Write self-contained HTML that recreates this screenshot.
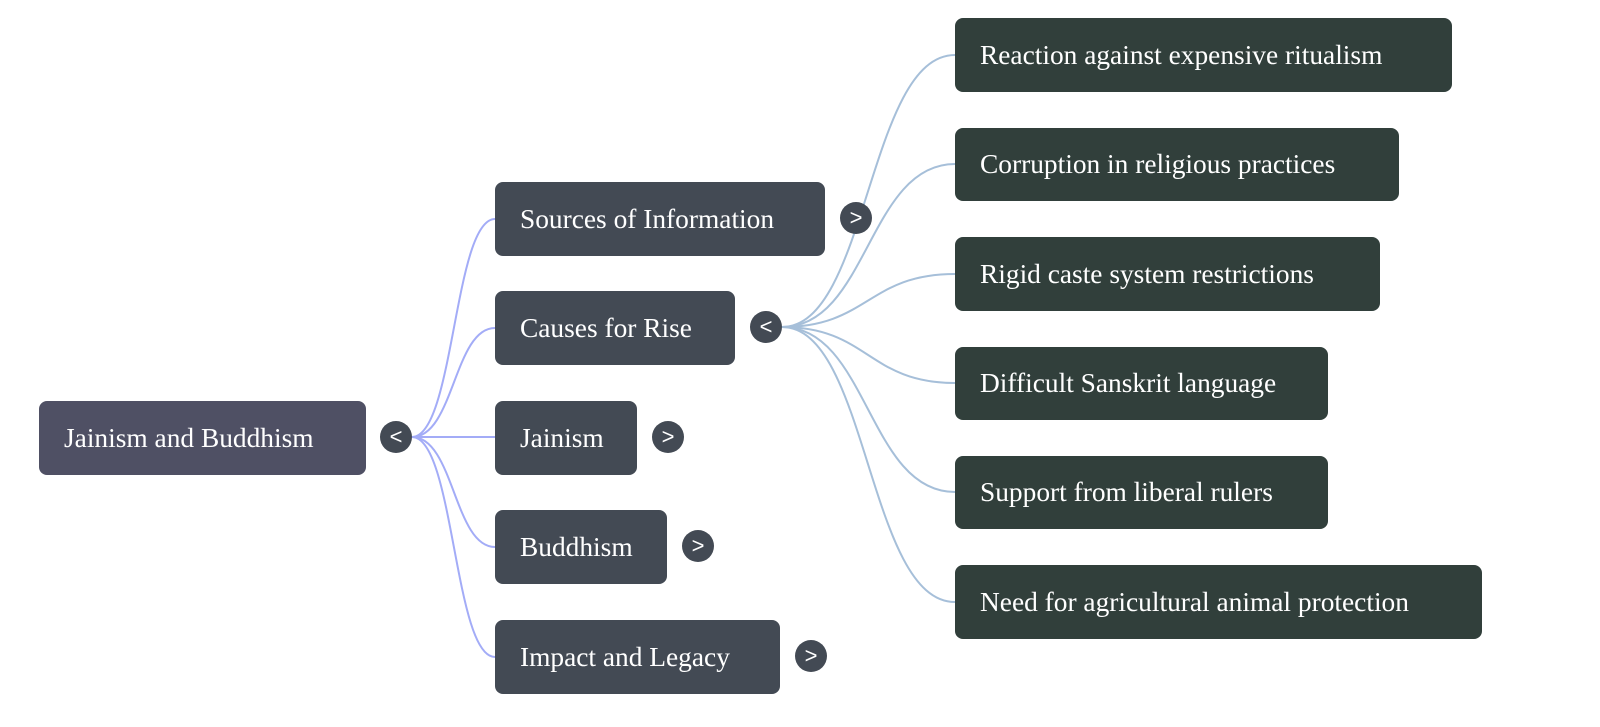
<!DOCTYPE html>
<html><head><style>
html,body{margin:0;padding:0;background:#fff;}
body{width:1600px;height:727px;position:relative;overflow:hidden;font-family:"Liberation Serif",serif;}
.n{position:absolute;box-sizing:border-box;border-radius:8px;color:#fff;font-size:27.4px;padding-left:25px;display:flex;align-items:center;white-space:nowrap;}
.r{background:#4f5064;}
.a{background:#434a54;}
.b{background:#313f3b;}
.t{position:absolute;width:32px;height:32px;border-radius:50%;background:#434a54;color:#fff;font-family:"Liberation Sans",sans-serif;font-size:22px;display:flex;align-items:center;justify-content:center;line-height:1;}
svg{position:absolute;left:0;top:0;}
</style></head><body>
<svg width="1600" height="727">
<g fill="none" stroke="#a3acf7" stroke-width="2">
<path d="M412,437 C454,437 454,219 495,219"/>
<path d="M412,437 C454,437 454,328 495,328"/>
<path d="M412,437 L495,437"/>
<path d="M412,437 C454,437 454,547 495,547"/>
<path d="M412,437 C454,437 454,657 495,657"/>
</g>
<g fill="none" stroke="#a6bfd9" stroke-width="2">
<path d="M782,327 C868,327 868,55 955,55"/>
<path d="M782,327 C868,327 868,164 955,164"/>
<path d="M782,327 C868,327 868,274 955,274"/>
<path d="M782,327 C868,327 868,383 955,383"/>
<path d="M782,327 C868,327 868,492 955,492"/>
<path d="M782,327 C868,327 868,602 955,602"/>
</g>
</svg>
<div class="n r" style="left:39px;top:401px;width:327px;height:74px;">Jainism and Buddhism</div>
<div class="t" style="left:380px;top:421px;">&lt;</div>
<div class="n a" style="left:495px;top:182px;width:330px;height:74px;">Sources of Information</div>
<div class="t" style="left:840px;top:202px;">&gt;</div>
<div class="n a" style="left:495px;top:291px;width:240px;height:74px;">Causes for Rise</div>
<div class="t" style="left:750px;top:311px;">&lt;</div>
<div class="n a" style="left:495px;top:401px;width:142px;height:74px;">Jainism</div>
<div class="t" style="left:652px;top:421px;">&gt;</div>
<div class="n a" style="left:495px;top:510px;width:172px;height:74px;">Buddhism</div>
<div class="t" style="left:682px;top:530px;">&gt;</div>
<div class="n a" style="left:495px;top:620px;width:285px;height:74px;">Impact and Legacy</div>
<div class="t" style="left:795px;top:640px;">&gt;</div>
<div class="n b" style="left:955px;top:18px;width:497px;height:74px;">Reaction against expensive ritualism</div>
<div class="n b" style="left:955px;top:128px;width:444px;height:73px;">Corruption in religious practices</div>
<div class="n b" style="left:955px;top:237px;width:425px;height:74px;">Rigid caste system restrictions</div>
<div class="n b" style="left:955px;top:347px;width:373px;height:73px;">Difficult Sanskrit language</div>
<div class="n b" style="left:955px;top:456px;width:373px;height:73px;">Support from liberal rulers</div>
<div class="n b" style="left:955px;top:565px;width:527px;height:74px;">Need for agricultural animal protection</div>
</body></html>
